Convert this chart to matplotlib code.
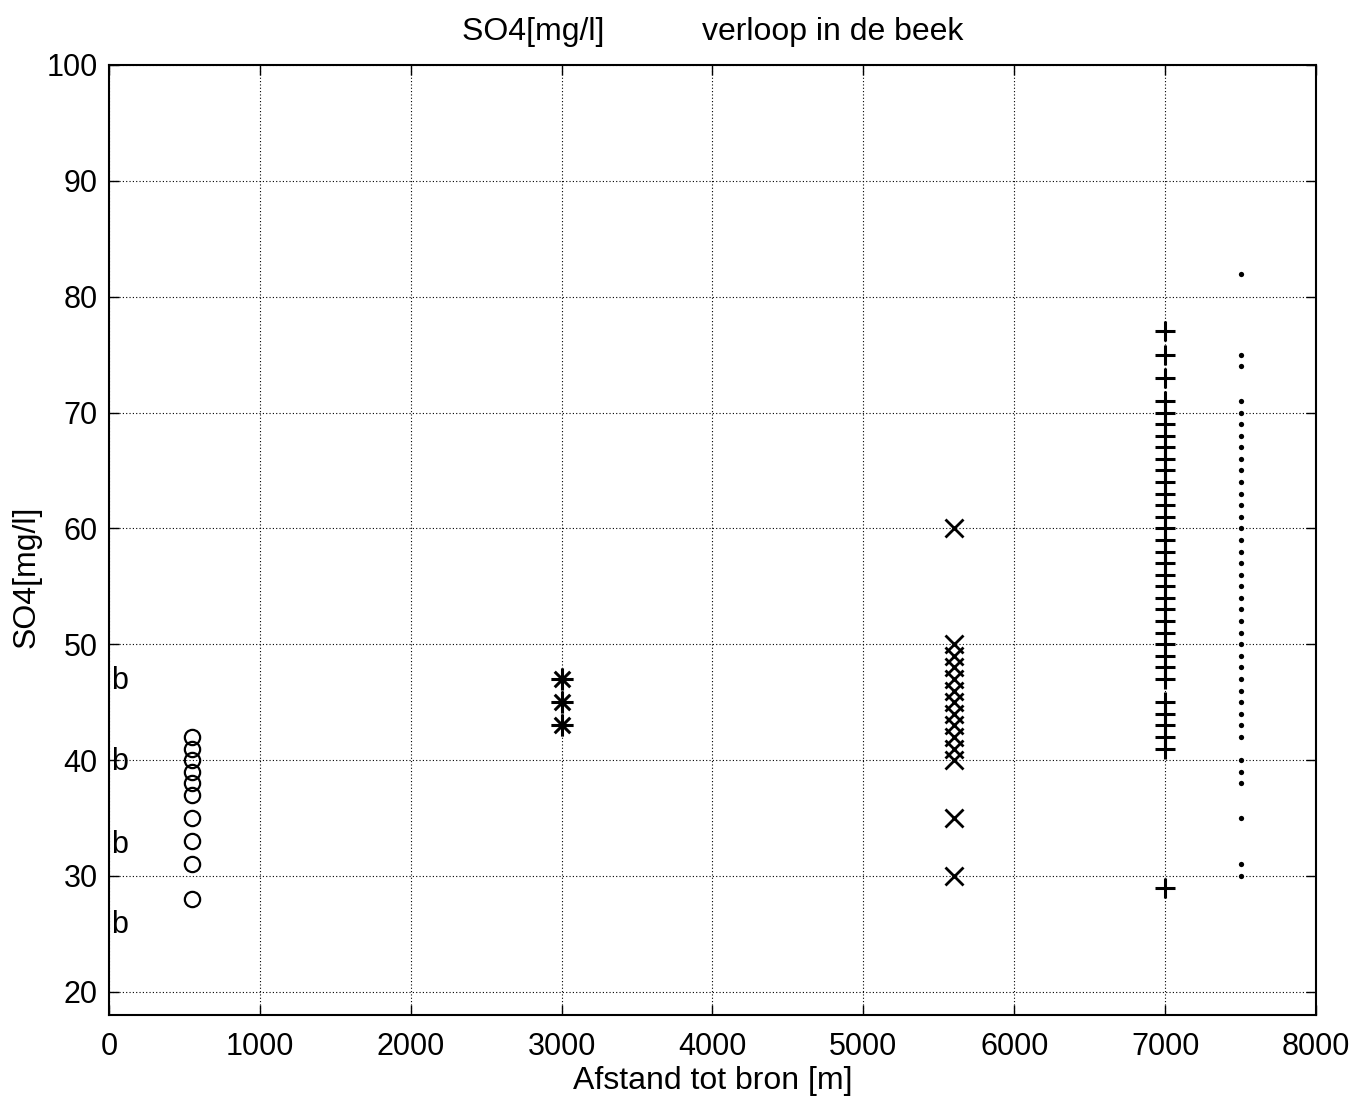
import matplotlib.pyplot as plt
from matplotlib.path import Path

plt.rcParams['font.family'] = ['Liberation Sans', 'DejaVu Sans']

# distances along the stream [m]
x_circle = 550
x_star = 3000
x_cross = 5600
x_plus = 7000
x_dot = 7500

so4_circle = [42, 41, 40, 39, 38, 37, 35, 33, 31, 28]
so4_star = [47, 45, 43]
so4_cross = [60, 50, 49, 48, 47, 46, 45, 44, 43, 42, 41, 40, 35, 30]
so4_plus = [77, 75, 73, 71, 70, 69, 68, 67, 66, 65, 64, 63, 62, 61, 60, 59, 58,
            57, 56, 55, 54, 53, 52, 51, 50, 49, 48, 47, 45, 44, 43, 42, 41, 29]
so4_dot = [82, 75, 74] + list(range(71, 41, -1)) + [40, 39, 38, 35, 31, 30]

b_labels_y = [46.8, 39.8, 32.7, 25.8]

# MATLAB-style asterisk: 8 spokes
star_path = Path(
    [(-1, 0), (1, 0), (0, -1), (0, 1),
     (-0.7, -0.7), (0.7, 0.7), (-0.7, 0.7), (0.7, -0.7)],
    [Path.MOVETO, Path.LINETO] * 4)

fig = plt.figure(figsize=(13.72, 11.03), dpi=100)
ax = fig.add_axes([0.0794, 0.0798, 0.8798, 0.8613])

kw = dict(linestyle='none', color='black', markerfacecolor='none')
ax.plot([x_circle] * len(so4_circle), so4_circle, marker='o', ms=11, mew=1.6, **kw)
ax.plot([x_star] * len(so4_star), so4_star, marker=star_path, ms=16, mew=2.2, **kw)
ax.plot([x_cross] * len(so4_cross), so4_cross, marker='x', ms=13, mew=2.0, **kw)
ax.plot([x_plus] * len(so4_plus), so4_plus, marker='+', ms=15, mew=2.2, **kw)
ax.plot([x_dot] * len(so4_dot), so4_dot, marker='o', ms=3.8, mew=0,
        linestyle='none', color='black')

for yb in b_labels_y:
    ax.text(15, yb, 'b', fontsize=22, ha='left', va='center')

ax.set_xlim(0, 8000)
ax.set_ylim(18, 100)
ax.set_xticks(range(0, 8001, 1000))
ax.set_yticks(range(20, 101, 10))
ax.tick_params(direction='in', length=7, width=1, labelsize=22,
               top=True, right=True)
ax.tick_params(axis='x', pad=12)
ax.tick_params(axis='y', pad=8)
ax.grid(True, color='black', linestyle=(0, (1, 2)), linewidth=0.8)
for s in ax.spines.values():
    s.set_linewidth(1.5)

ax.set_title('SO4[mg/l]           verloop in de beek', fontsize=23, pad=18)
ax.set_xlabel('Afstand tot bron [m]', fontsize=23, labelpad=3)
ax.set_ylabel('SO4[mg/l]', fontsize=23)
ax.yaxis.set_label_coords(-0.056, 0.461)

fig.savefig('out.png', dpi=100)
